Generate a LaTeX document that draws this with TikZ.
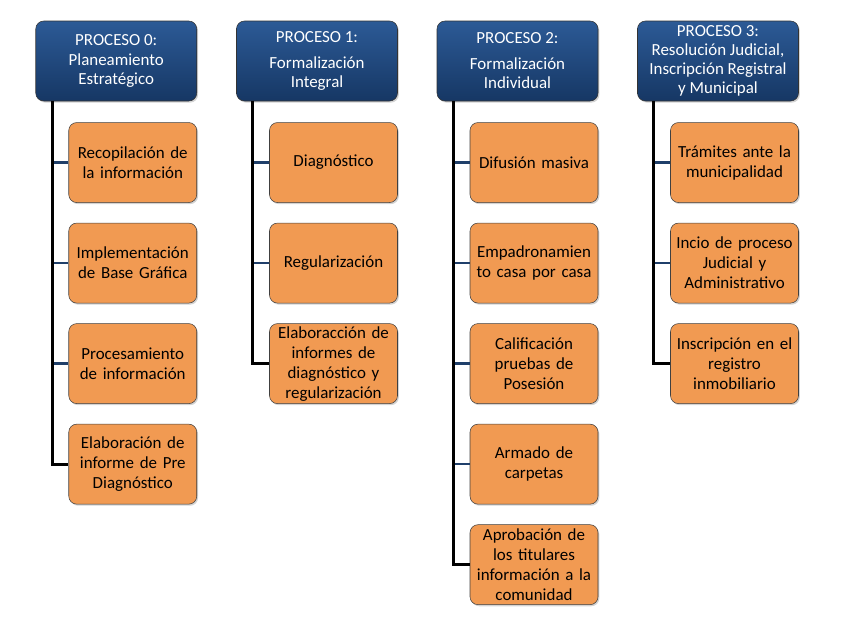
\documentclass[tikz,border=0pt]{standalone}
\usepackage{fontspec}
\setmainfont{Carlito}
\usetikzlibrary{positioning,shadows}

\definecolor{headtop}{RGB}{44,90,150}
\definecolor{headbot}{RGB}{22,55,100}
\definecolor{taskfill}{RGB}{241,154,82}
\definecolor{branchblue}{RGB}{31,63,106}

\begin{document}
\begin{tikzpicture}[
    x=0.75pt, y=-0.75pt,
    node distance=15pt,
    head/.style={rectangle, draw=black!80, rounded corners=6pt,
                 top color=headtop, bottom color=headbot, text=white,
                 minimum width=120.75pt, minimum height=60pt, inner sep=0pt,
                 align=center, font=\fontsize{12.7}{14.4}\selectfont,
                 drop shadow={opacity=0.35, shadow xshift=1pt, shadow yshift=-1.2pt}},
    task/.style={rectangle, draw=black!75, rounded corners=6pt, fill=taskfill,
                 minimum width=96pt, minimum height=60pt, text width=95pt, inner sep=0.5pt,
                 align=center, font=\fontsize{12.7}{15}\selectfont,
                 drop shadow={opacity=0.35, shadow xshift=1pt, shadow yshift=-1.2pt}},
    trunk/.style={line width=2.2pt, black},
    branch/.style={line width=1.8pt, branchblue}
]

\useasboundingbox (0,0) rectangle (852,622);

% Proceso 0
\node[head] (h0) at (116.25,61) {PROCESO 0:\\Planeamiento\\Estratégico};
\coordinate (t0) at ([xshift=12.5pt]h0.south west);
\node[task, below left=15.75pt and 0pt of h0.south east] (c01) {Recopilación de\\la información};
\node[task, below=of c01] (c02) {Implementación\\de Base Gráfica};
\node[task, below=of c02] (c03) {Procesamiento\\de información};
\node[task, below=of c03] (c04) {Elaboración de\\informe de Pre\\Diagnóstico};

% Proceso 1
\node[head] (h1) at (317,61) {PROCESO 1:\\[5pt]Formalización\\Integral};
\coordinate (t1) at ([xshift=12.5pt]h1.south west);
\node[task, below left=15.75pt and 0pt of h1.south east] (c11) {Diagnóstico};
\node[task, below=of c11] (c12) {Regularización};
\node[task, below=of c12] (c13) {Elaboracción de\\informes de\\diagnóstico y\\regularización};

% Proceso 2
\node[head] (h2) at (517.5,61) {PROCESO 2:\\[5pt]Formalización\\Individual};
\coordinate (t2) at ([xshift=12.5pt]h2.south west);
\node[task, below left=15.75pt and 0pt of h2.south east] (c21) {Difusión masiva};
\node[task, below=of c21] (c22) {Empadronamien\\to casa por casa};
\node[task, below=of c22] (c23) {Calificación\\pruebas de\\Posesión};
\node[task, below=of c23] (c24) {Armado de\\carpetas};
\node[task, below=of c24] (c25) {Aprobación de\\los titulares\\información a la\\comunidad};

% Proceso 3
\node[head] (h3) at (718,61) {PROCESO 3:\\Resolución Judicial,\\Inscripción Registral\\y Municipal};
\coordinate (t3) at ([xshift=12.5pt]h3.south west);
\node[task, below left=15.75pt and 0pt of h3.south east] (c31) {Trámites ante la\\municipalidad};
\node[task, below=of c31] (c32) {Incio de proceso\\Judicial y\\Administrativo};
\node[task, below=of c32] (c33) {Inscripción en el\\registro\\inmobiliario};

% Trunks and branches
\draw[branch] (c01.west) -- (c01.west -| t0);
\draw[branch] (c02.west) -- (c02.west -| t0);
\draw[branch] (c03.west) -- (c03.west -| t0);
\draw[trunk] (t0) |- (c04.west);

\draw[branch] (c11.west) -- (c11.west -| t1);
\draw[branch] (c12.west) -- (c12.west -| t1);
\draw[trunk] (t1) |- (c13.west);

\draw[branch] (c21.west) -- (c21.west -| t2);
\draw[branch] (c22.west) -- (c22.west -| t2);
\draw[branch] (c23.west) -- (c23.west -| t2);
\draw[branch] (c24.west) -- (c24.west -| t2);
\draw[trunk] (t2) |- (c25.west);

\draw[branch] (c31.west) -- (c31.west -| t3);
\draw[branch] (c32.west) -- (c32.west -| t3);
\draw[trunk] (t3) |- (c33.west);

\end{tikzpicture}
\end{document}
